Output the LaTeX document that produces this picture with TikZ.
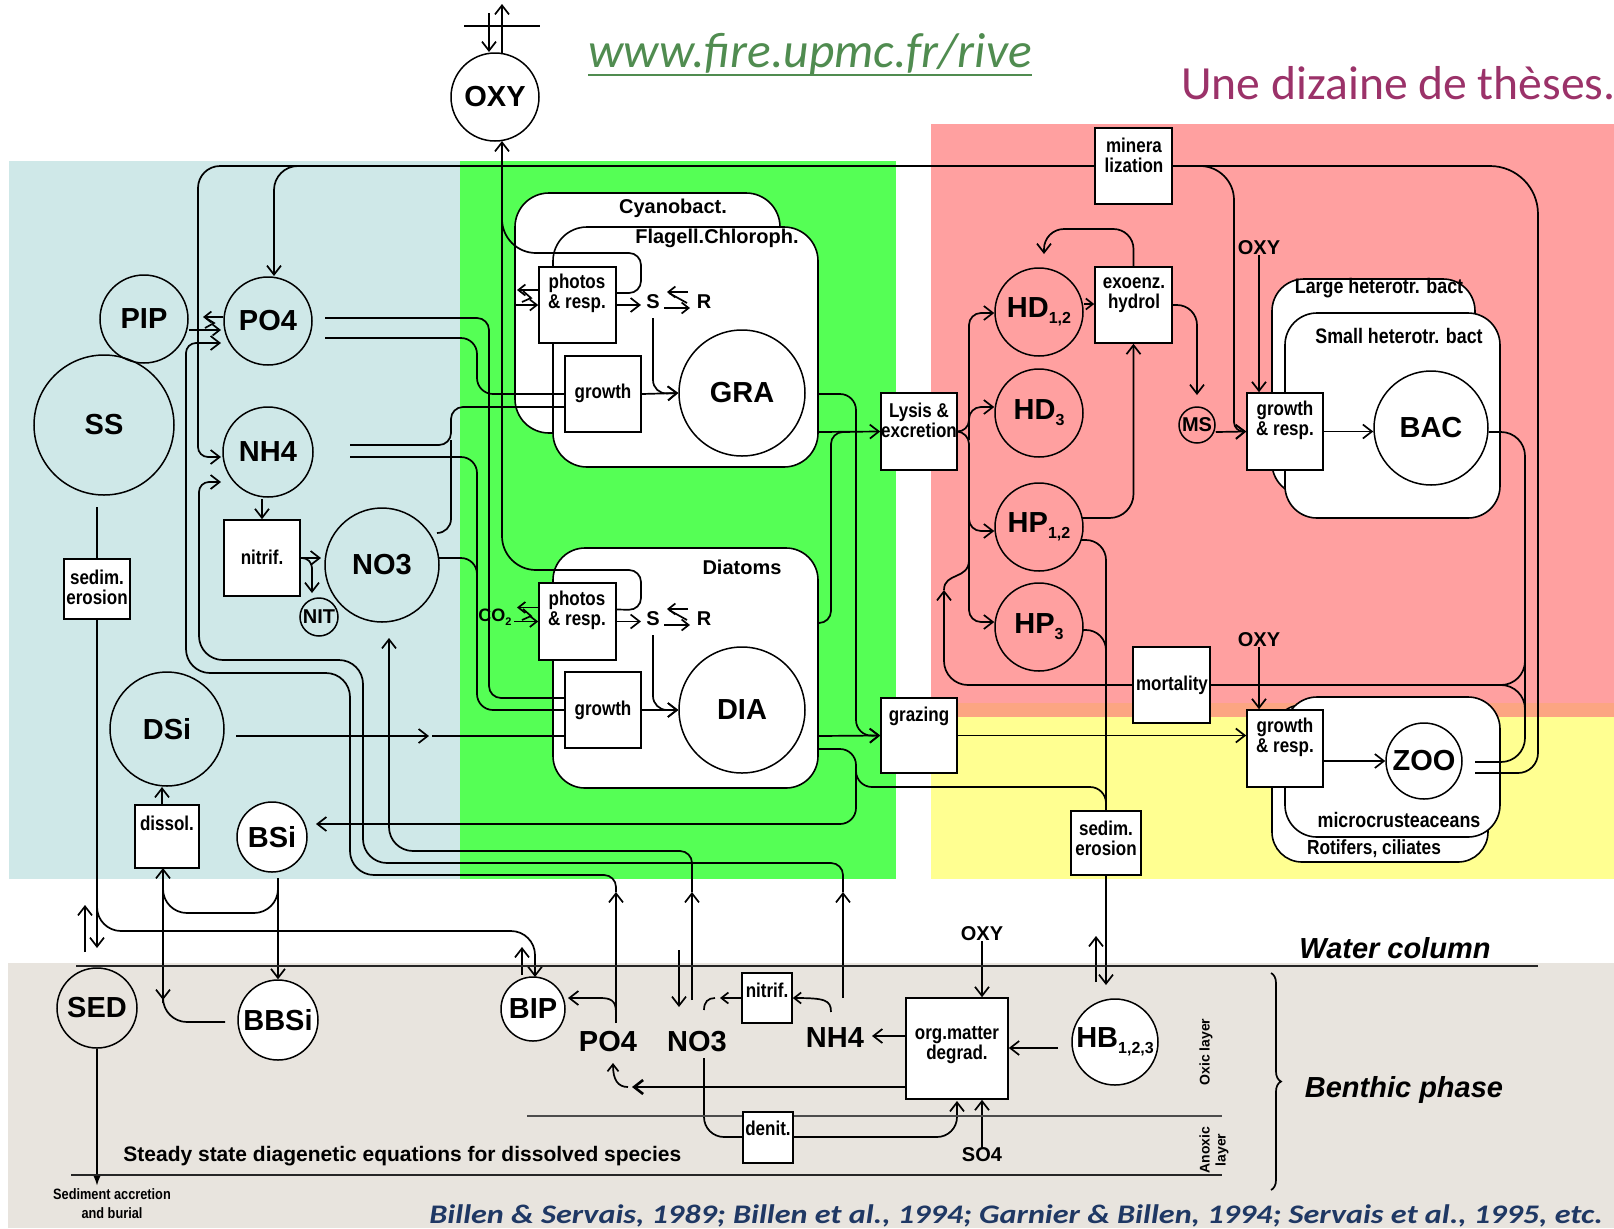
\documentclass[tikz,border=0pt]{standalone}
\usepackage{fontspec}
\setmainfont{Liberation Sans}
\newfontfamily\nar[FakeStretch=0.85]{Liberation Sans}
\newfontfamily\calib{Carlito}
\newfontfamily\calibw[FakeStretch=1.2]{Carlito}
\usetikzlibrary{arrows.meta,decorations.pathreplacing}
\definecolor{bgblue}{RGB}{207,232,232}
\definecolor{bggreen}{RGB}{85,255,85}
\definecolor{bgpink}{RGB}{255,160,160}
\definecolor{bgorange}{RGB}{252,165,130}
\definecolor{bgyellow}{RGB}{255,255,145}
\definecolor{bgben}{RGB}{232,228,222}
\definecolor{urlgreen}{RGB}{80,140,80}
\definecolor{thesepurple}{RGB}{155,50,105}
\definecolor{citeblue}{RGB}{31,56,100}
\pgfdeclarelayer{bgcol}\pgfdeclarelayer{contl}\pgfdeclarelayer{lines}
\pgfsetlayers{bgcol,contl,lines,main}
\newcommand{\sbs}[1]{\raisebox{-3pt}{\fontsize{8}{8}\selectfont #1}}
\tikzset{
 bub/.style={circle, draw, line width=0.75pt, inner sep=0pt, font=\bfseries\fontsize{14.5}{16}\selectfont},
 wbub/.style={bub, fill=white},
 pbox/.style={rectangle, draw, fill=white, line width=0.8pt, inner sep=0pt},
 lbl/.style={font=\nar\bfseries\fontsize{10}{10}\selectfont, align=center, inner sep=0pt},
 sm/.style={font=\bfseries\fontsize{10}{11}\selectfont, inner sep=0pt},
 ln/.style={line width=0.85pt},
 ar/.style={ln, -{Straight Barb[length=4.5pt,width=7pt]}},
 sar/.style={ln, -{Straight Barb[length=3.5pt,width=5.5pt]}},
 contbox/.style={draw, fill=white, line width=0.8pt},
}
\begin{document}
\begin{tikzpicture}[x=0.5pt,y=-0.5pt]
\useasboundingbox (0,0) rectangle (1614,1228);
\begin{pgfonlayer}{bgcol}
\fill[white] (0,0) rectangle (1614,1228);
\fill[bgblue] (9,161) rectangle (460,879);
\fill[bggreen] (460,161) rectangle (896,879);
\fill[bgpink] (931,124) rectangle (1614,703);
\fill[bgorange] (931,703) rectangle (1614,717);
\fill[bgyellow] (931,717) rectangle (1614,879);
\fill[bgben] (8,963) rectangle (1614,1228);
\end{pgfonlayer}
\begin{pgfonlayer}{contl}
\draw[contbox, rounded corners=17pt] (515,193) rectangle (780,433);
\draw[contbox, rounded corners=17pt] (553,227) rectangle (818,467);
\draw[contbox, rounded corners=16pt] (553,548) rectangle (818,788);
\draw[contbox, rounded corners=16pt] (1272,279) rectangle (1475,495);
\draw[contbox, rounded corners=16pt] (1285,313) rectangle (1500,518);
\draw[contbox, rounded corners=15pt] (1272,705) rectangle (1488,862);
\draw[contbox, rounded corners=16pt] (1285,697) rectangle (1500,837);
\end{pgfonlayer}
% titles
\node[anchor=base west, text=urlgreen, font=\calib\itshape\fontsize{24.7}{28}\selectfont, inner sep=0pt] (url) at (588,67) {www.fire.upmc.fr/rive};
\draw[urlgreen, line width=1.2pt] ([yshift=-4pt]url.base west) -- ([yshift=-4pt]url.base east);
\node[anchor=base west, text=thesepurple, font=\calib\fontsize{23.8}{28}\selectfont, inner sep=0pt] (une) at (1181,99) {Une dizaine de thèses.};
\node[anchor=base west, text=citeblue, font=\calibw\bfseries\itshape\fontsize{13.4}{15}\selectfont, inner sep=0pt] (cite) at (429,1223) {Billen \& Servais, 1989; Billen et al., 1994; Garnier \& Billen, 1994; Servais et al., 1995, etc.};
% container labels
\node[font=\bfseries\fontsize{10}{11}\selectfont] (tcy) at (673,208) {Cyanobact.};
\node[font=\bfseries\fontsize{10}{11}\selectfont] (tfl) at (717,238) {Flagell.Chloroph.};
\node[font=\bfseries\fontsize{10}{11}\selectfont] (tdi) at (742,567) {Diatoms};
\node[lbl, font=\nar\bfseries\fontsize{10.5}{11}\selectfont] (tlh) at (1379,288) {Large heterotr. bact};
\node[lbl, font=\nar\bfseries\fontsize{10.5}{11}\selectfont] (tsh) at (1399,336) {Small heterotr. bact};
\node[lbl, font=\nar\bfseries\fontsize{10.5}{11}\selectfont] (tmc) at (1399,820) {microcrusteaceans};
\node[lbl, font=\nar\bfseries\fontsize{10.2}{11}\selectfont] (tro) at (1374,849) {Rotifers, ciliates};
% circles
\node[bub, minimum size=44pt] (oxy) at (495,97) {OXY};
\node[bub, minimum size=44pt] (pip) at (144,319) {PIP};
\node[bub, minimum size=70pt] (ss) at (104,425) {SS};
\node[bub, minimum size=44pt] (po4) at (268,321) {PO4};
\node[bub, minimum size=45pt] (nh4) at (268,452) {NH4};
\node[bub, minimum size=57pt] (no3) at (382,565) {NO3};
\node[bub, minimum size=19pt, font=\bfseries\fontsize{10}{10}\selectfont] (nit) at (319,617) {NIT};
\node[bub, minimum size=57pt] (dsi) at (167,729) {DSi};
\node[wbub, minimum size=35pt] (bsi) at (272,837) {BSi};
\node[wbub, minimum size=63pt] (gra) at (742,393) {GRA};
\node[wbub, minimum size=63pt] (dia) at (742,710) {DIA};
\node[bub, minimum size=44pt] (hd12) at (1039,312) {HD\sbs{1,2}};
\node[bub, minimum size=44pt] (hd3) at (1039,413) {HD\sbs{3}};
\node[bub, minimum size=44pt] (hp12) at (1039,527) {HP\sbs{1,2}};
\node[bub, minimum size=44pt] (hp3) at (1039,627) {HP\sbs{3}};
\node[bub, minimum size=18pt, font=\bfseries\fontsize{10}{10}\selectfont] (ms) at (1197,425) {MS};
\node[wbub, minimum size=57pt] (bac) at (1431,428) {BAC};
\node[wbub, minimum size=38pt] (zoo) at (1424,761) {ZOO};
\node[bub, minimum size=40pt] (sed) at (97,1008) {SED};
\node[wbub, minimum size=40pt] (bbsi) at (278,1020) {BBSi};
\node[wbub, minimum size=32pt] (bip) at (533,1009) {BIP};
\node[wbub, minimum size=43pt] (hb) at (1115,1042) {HB\sbs{1,2,3}};
% boxes
\node[pbox, minimum width=38.5pt, minimum height=38pt] (ph1) at (577.5,305) {};
\node[pbox, minimum width=38pt, minimum height=38pt] (gr1) at (603,394) {};
\node[pbox, minimum width=38.5pt, minimum height=38.5pt] (ph2) at (577.5,621.5) {};
\node[pbox, minimum width=38pt, minimum height=38pt] (gr2) at (603,710) {};
\node[pbox, minimum width=38pt, minimum height=38.5pt] (lysis) at (919,431.5) {};
\node[pbox, minimum width=38pt, minimum height=37.5pt] (graz) at (919,735.5) {};
\node[pbox, minimum width=38.5pt, minimum height=38pt] (mineral) at (1133.5,166) {};
\node[pbox, minimum width=38.5pt, minimum height=38pt] (exo) at (1133.5,305) {};
\node[pbox, minimum width=38pt, minimum height=38.5pt] (grb) at (1285,431.5) {};
\node[pbox, minimum width=38.5pt, minimum height=38pt] (mort) at (1171.5,685) {};
\node[pbox, minimum width=38pt, minimum height=38.5pt] (grz) at (1285,748.5) {};
\node[pbox, minimum width=35pt, minimum height=32pt] (sedr) at (1106,843) {};
\node[pbox, minimum width=38pt, minimum height=38pt] (nitw) at (262,558) {};
\node[pbox, minimum width=33pt, minimum height=30pt] (sedl) at (97,589) {};
\node[pbox, minimum width=32pt, minimum height=31.5pt] (diss) at (167,836.5) {};
\node[pbox, minimum width=25pt, minimum height=25pt] (nitb) at (767,998) {};
\node[pbox, minimum width=51pt, minimum height=50.5pt] (org) at (957,1048.5) {};
\node[pbox, minimum width=25pt, minimum height=25.5pt] (den) at (768,1137.5) {};
% box labels
\node[lbl] (lph1) at (577,293) {photos\\\& resp.};
\node[lbl] (lgr1) at (603,393) {growth};
\node[lbl] (lph2) at (577,610) {photos\\\& resp.};
\node[lbl] (lgr2) at (603,710) {growth};
\node[lbl] (llys) at (919,420) {Lysis \&\\excretion};
\node[lbl] (lgraz) at (919,716) {grazing};
\node[lbl] (lmin) at (1134,155) {minera\\lization};
\node[lbl] (lexo) at (1134,295) {exoenz.\\hydrol};
\node[lbl] (lgrb) at (1285,420) {growth\\\& resp.};
\node[lbl] (lmort) at (1172,685) {mortality};
\node[lbl] (lgrz) at (1285,737) {growth\\\& resp.};
\node[lbl] (lsedr) at (1106,838) {sedim.\\erosion};
\node[lbl] (lnitw) at (262,557) {nitrif.};
\node[lbl] (lsedl) at (97,587) {sedim.\\erosion};
\node[lbl] (ldiss) at (167,823) {dissol.};
\node[lbl] (lnitb) at (767,990) {nitrif.};
\node[lbl] (lorg) at (957,1045) {org.matter\\degrad.};
\node[lbl] (lden) at (768,1128) {denit.};
% small labels
\node[sm] (s1) at (653,302) {S};
\node[sm] (r1) at (704,302) {R};
\node[sm] (s2) at (653,619) {S};
\node[sm] (r2) at (704,619) {R};
\node[sm, font=\bfseries\fontsize{9}{10}\selectfont] (co2) at (495,617) {CO\raisebox{-2pt}{\fontsize{5.5}{6}\selectfont 2}};
\node[sm] (oxyb) at (1259,248) {OXY};
\node[sm] (oxyz) at (1259,640) {OXY};
\node[sm] (oxyben) at (982,934) {OXY};
\node[sm] (so4) at (982,1155) {SO4};
\node[font=\bfseries\fontsize{14.5}{16}\selectfont, inner sep=0pt] (bpo4) at (608,1042) {PO4};
\node[font=\bfseries\fontsize{14.5}{16}\selectfont, inner sep=0pt] (bno3) at (697,1042) {NO3};
\node[font=\bfseries\fontsize{14.5}{16}\selectfont, inner sep=0pt] (bnh4) at (835,1038) {NH4};
\node[font=\bfseries\itshape\fontsize{14.5}{16}\selectfont] (wcol) at (1395,948) {Water column};
\node[font=\bfseries\itshape\fontsize{14.5}{16}\selectfont] (bph) at (1404,1090) {Benthic phase};
\node[rotate=90, font=\bfseries\fontsize{7}{7.5}\selectfont, inner sep=0pt] (oxic) at (1206,1052) {Oxic layer};
\node[rotate=90, align=center, font=\bfseries\fontsize{7}{8}\selectfont, inner sep=0pt] (anox) at (1214,1150) {Anoxic\\layer};
\node[anchor=west, font=\bfseries\fontsize{10.5}{12}\selectfont, inner sep=0pt] (steady) at (123,1156) {Steady state diagenetic equations for dissolved species};
\node[align=center, font=\nar\bfseries\fontsize{7.5}{9.5}\selectfont, inner sep=0pt] (accr) at (112,1204) {Sediment accretion\\and burial};

\begin{pgfonlayer}{lines}
% OXY top
\coordinate (atl) at (464,26); \coordinate (atr) at (540,26);
\draw[ln] (atl) -- (atr);
\draw[ar] (489,13) -- (489,52);
\draw[ar] (502,54) -- (502,4);
% O2 from photosynthesis
\draw[ln, rounded corners=6pt] ([yshift=6pt]ph1.east) -- (641,293) -- (641,253) -- (560,253);
\draw[ln, rounded corners=17pt] (580,253) -- (502,253) -- (502,200);
\draw[ln, rounded corners=6pt] ([yshift=6pt]ph2.east) -- (641,610) -- (641,570) -- (560,570);
\draw[ar, rounded corners=17pt] (580,570) -- (502,570) -- (502,141);
% CO2 exchange
\draw[sar] ([yshift=7.5pt]ph1.west) -- (517,290);
\draw[sar] (514,305) -- (ph1.west);
\draw[ln] (523,291) -- (531,298) -- (522,302);
\draw[sar] ([yshift=7pt]ph2.west) -- (517,607.5);
\draw[sar] (514,621.5) -- (ph2.west);
\draw[ln] (523,609) -- (531,616) -- (522,620);
% photos -> S, S <-> R
\draw[ar] (ph1.east) -- (641,305);
\draw[ar] (ph2.east) -- (641,621.5);
\draw[sar] (688,292) -- (667,292);
\draw[ln] (669,293) -- (687,303);
\draw[sar] (664,308) -- (690,308);
\draw[sar] (688,609) -- (667,609);
\draw[ln] (669,610) -- (687,620);
\draw[sar] (664,625) -- (690,625);
\draw[ar, rounded corners=7pt] (653,318) -- (653,394) -- (gra.west);
\draw[ar, rounded corners=7pt] (653,635) -- (653,710) -- (dia.west);
\draw[ar] (gr1.east) -- (gra.west);
\draw[ar] (gr2.east) -- (dia.west);
% nutrients to growth
\draw[ln, rounded corners=6pt] (325,318) -- (489,318) -- (489,698) -- (gr2.west |- 0,698);
\draw[ln, rounded corners=8pt] (325,338) -- (477,338) -- (477,394) -- (gr1.west);
\draw[ln, rounded corners=6pt] (350,445) -- (451,445) -- (451,407) -- (gr1.west |- 0,407);
\draw[ln, rounded corners=7pt] (437,533) -- (451,533) -- (451,440);
\draw[ln, rounded corners=8pt] (350,457) -- (477,457) -- (477,710) -- (gr2.west);
\draw[ln, rounded corners=8pt] (439,558) -- (477,558) -- (477,590);
\draw[ar] (236,736) -- (429,736);
\draw[ln] (432,736) -- (gr2.west |- 0,736);
% mineralization to PO4, NH4
\draw[ln, rounded corners=11pt] (mineral.west) -- (198,166) -- (198,440);
\draw[ar, rounded corners=5pt] (198,435) -- (198,457) -- (221,457);
\draw[ar, rounded corners=12pt] (310,166) -- (274,166) -- (274,276);
% PIP <-> PO4
\draw[sar] (po4.west |- 0,317) -- (203,317);
\draw[sar] (pip.east |- 0,330) -- (221,330);
\draw[ln] (206,318) -- (214,323) -- (205,328);
% benthic PO4 to water PO4
\draw[ar] (616,1023) -- (616,892);
\draw[ln, rounded corners=6pt] (616,892) -- (616,875) -- (590,875);
\draw[ln, rounded corners=12pt] (600,875) -- (350,875) -- (350,673) -- (186,673) -- (186,400);
\draw[ar, rounded corners=5pt] (186,405) -- (186,343) -- (221,343);
% benthic NH4 to water NH4
\draw[ar] (843,998) -- (843,892);
\draw[ln, rounded corners=6pt] (843,892) -- (843,863) -- (815,863);
\draw[ln, rounded corners=12pt] (825,863) -- (363,863) -- (363,660) -- (199,660) -- (199,520);
\draw[ar, rounded corners=5pt] (199,525) -- (199,482) -- (221,482);
% benthic NO3 to water NO3
\draw[ar] (679,950) -- (679,1007);
\draw[ar] (692,1000) -- (692,892);
\draw[ln, rounded corners=6pt] (692,892) -- (692,851) -- (665,851);
\draw[ar, rounded corners=12pt] (675,851) -- (389,851) -- (389,638);
% phytoplankton outputs
\draw[ar, rounded corners=8pt] (818,749) -- (856,749) -- (856,824) -- (316,824);
\draw[ln, rounded corners=8pt] (856,770) -- (856,787) -- (1106,787) -- (1106,830);
\draw[ar, rounded corners=8pt] (818,394) -- (856,394) -- (856,736) -- (graz.west);
\draw[ar] (818,736) -- (graz.west);
\draw[ar] (818,432) -- (lysis.west);
\draw[ln, rounded corners=6pt] (818,623) -- (831,623) -- (831,432) -- (850,432);
% lysis to HD/HP
\draw[ar, rounded corners=6pt] (lysis.east) -- (969,432) -- (969,313) -- (hd12.west |- 0,313);
\draw[ar, rounded corners=6pt] (969,440) -- (969,407) -- (hd3.west |- 0,407);
\draw[ar, rounded corners=6pt] (lysis.east) -- (969,432) -- (969,531) -- (hp12.west |- 0,531);
\draw[ar, rounded corners=6pt] (969,500) -- (969,622) -- (hp3.west |- 0,622);
% mortality back
\draw[ar, rounded corners=12pt] (mort.west) -- (944,685) -- (944,590);
\draw[ln] (944,590) .. controls (944,572) and (969,580) .. (969,560);
% hydrolysis
\draw[ar, rounded corners=12pt] (1082,518) -- (1133.5,518) -- (exo.south);
\draw[sar] (hd12.east |- 0,304) -- (exo.west |- 0,304);
\draw[ar, rounded corners=10pt] (exo.north) -- (1133.5,229) -- (1044,229) -- (1044,254);
\draw[ar, rounded corners=10pt] (exo.east) -- (1197,305) -- (1197,395);
\draw[ar] (ms.east |- 0,432) -- (grb.west);
\draw[ln, rounded corners=17pt] (mineral.east) -- (1234,166) -- (1234,400);
\draw[ar, rounded corners=5pt] (1234,395) -- (1234,432) -- (grb.west);
\draw[ln, rounded corners=24pt] (mineral.east) -- (1538,166) -- (1538,700);
\draw[ln, rounded corners=10pt] (1538,690) -- (1538,773) -- (1475,773);
\draw[ar] (oxyb.south) -- (oxyb.south |- grb.north);
\draw[ar] (grb.east) -- (bac.west |- grb.east);
\draw[ln, rounded corners=12pt] (bac.east |- 0,432) -- (1525,432) -- (1525,762) -- (1475,762);
\draw[ln, rounded corners=12pt] (mort.east) -- (1525,685) -- (1525,650);
\draw[ln, rounded corners=12pt] (1490,685) -- (1525,685) -- (1525,720);
\draw[ar] (graz.east) -- (grz.west |- graz.east);
\draw[ar] (grz.east |- 0,761) -- (zoo.west);
\draw[ar] (oxyz.south) -- (oxyz.south |- grz.north);
% HP to sedimentation
\draw[ln, rounded corners=10pt] (1081,540) -- (1106,540) -- (sedr.north);
\draw[ln, rounded corners=10pt] (1082,630) -- (1106,630) -- (1106,680);
\draw[ar] (sedr.south) -- (1106,985);
\draw[ar] (1096,982) -- (1096,936);
% benthic processes
\draw[ar] (1058,1048) -- (org.east |- 0,1048);
\draw[ar] (org.west |- 0,1036) -- (872,1036);
\draw[ar] (oxyben.south) -- (oxyben.south |- org.north);
\draw[ar] (so4.north) -- (so4.north |- org.south);
\draw[ar, rounded corners=10pt] (704,1058) -- (704,1137) -- (957,1137) -- (957,1101);
\draw[sar] (831,1012) .. controls (831,1000) and (825,998) .. (nitb.east);
\draw[sar] (nitb.west) -- (720,998);
\draw[ln] (715,998) .. controls (708,998) and (704,1002) .. (704,1010);
\draw[ar, line width=1.3pt] (org.west |- 0,1087) -- (632,1087);
\draw[sar] (628,1087) .. controls (618,1087) and (613,1080) .. (613,1063);
\draw[ar] (616,1012) .. controls (616,1000) and (610,998) .. (600,998) -- (568,998);
% SS column, sediment exchange
\draw[ar] (97,507) -- (97,948);
\draw[ar, rounded corners=12pt] (97,900) -- (97,931) -- (535,931) -- (535,977);
\draw[ar] (85,952) -- (85,905);
\draw[ar] (522,975) -- (522,947);
\draw[ln, -{Latex[length=5pt,width=3.5pt]}] (sed.south) -- (97,1186);
% silica
\draw[ar] (278,878) -- (bbsi.north);
\draw[ln, rounded corners=12pt] (278,885) -- (278,913) -- (163,913) -- (163,880);
\draw[ar, rounded corners=12pt] (225,1022) -- (163,1022) -- (163,1000);
\draw[ar] (163,1003) -- (163,868);
\draw[ar] (162,805) -- (162,787);
% nitrification water
\draw[ar] (262,499) -- (nitw.north);
\draw[ar] (nitw.east) -- (321,558);
\draw[ar, rounded corners=5pt] (nitw.east) -- (312,558) -- (312,593);
% layer lines
\draw[line width=1.3pt, black!85] (76,966) -- (1538,966);
\draw[line width=0.7pt, black!70] (527,1116) -- (1222,1116);
\draw[line width=1.1pt, black!85] (71,1175) -- (1222,1175);
\draw[ln, decorate, decoration={brace, amplitude=5pt}] (1271,973) -- (1271,1190);
\end{pgfonlayer}
\end{tikzpicture}
\end{document}
